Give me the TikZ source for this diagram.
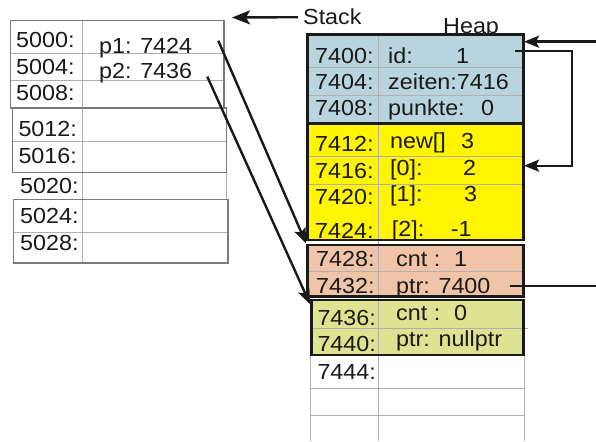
\documentclass[tikz,border=0pt]{standalone}
\usepackage{fontspec}
\setmainfont{Liberation Sans}[FakeStretch=1.07]
\usetikzlibrary{arrows.meta}

\definecolor{objblue}{HTML}{B8D4DE}
\definecolor{arryellow}{HTML}{FFF500}
\definecolor{ctlpeach}{HTML}{EFC4A8}
\definecolor{ctlgreen}{HTML}{DDE390}
\definecolor{gridgray}{HTML}{B0B0B0}
\definecolor{boxgray}{HTML}{7A7A7A}
\definecolor{ink}{HTML}{1A1A1A}

% label, then value starting at a fixed offset
\newcommand{\memval}[3]{\makebox[#2][l]{#1}#3}

\tikzset{
  lbl/.style={anchor=base west, inner sep=0pt, text=ink,
              font=\fontsize{21.8}{24}\selectfont},
  gridline/.style={draw=gridgray, line width=0.8pt},
  stackbox/.style={draw=boxgray, line width=1.1pt},
  block/.style={draw=ink, line width=2.8pt},
  ptrarrow/.style={draw=ink, line width=2.4pt, line join=miter,
                   -{Stealth[length=15pt,width=12pt,inset=3pt]}},
  ptrline/.style={draw=ink, line width=2.4pt},
}

\begin{document}
\begin{tikzpicture}[x=1pt,y=-1pt]
\useasboundingbox (0,0) rectangle (596,441);

% ---------------- Stack ----------------
\draw[gridline] (10.7,53.3) -- (224,53.3);
\draw[gridline] (10.7,80.7) -- (224,80.7);
\draw[gridline] (12.7,141.7) -- (226.7,141.7);
\draw[gridline] (13.3,232.3) -- (228,232.3);
\draw[gridline] (226.7,172.3) -- (226.7,199.3);
\draw[gridline] (82.7,20.7) -- (82.7,263);
\draw[stackbox] (10.7,20.7) rectangle (224,108);
\draw[stackbox] (12.7,108) rectangle (226.7,172.3);
\draw[stackbox] (13.3,199.3) rectangle (228,263);

\node[lbl] (s5000) at (16,47.7)  {5000:};
\node[lbl] (s5004) at (16,75)    {5004:};
\node[lbl] (s5008) at (16,100.7) {5008:};
\node[lbl] (s5012) at (18.3,136.7) {5012:};
\node[lbl] (s5016) at (18.3,163.3) {5016:};
\node[lbl] (s5020) at (20,193.3) {5020:};
\node[lbl] (s5024) at (20,223.3) {5024:};
\node[lbl] (s5028) at (20,250)   {5028:};

\node[lbl] (p1) at (99,53.3) {p1: 7424};
\node[lbl] (p2) at (99,79)   {p2: 7436};

\node[lbl] (stack) at (303,25) {Stack};
\node[lbl] (heap)  at (443,33.5) {Heap};

% ---------------- Heap ----------------
\fill[white] (310.7,355) rectangle (524.3,441);
\draw[gridline] (310.7,355) -- (310.7,441);
\draw[gridline] (524.3,355) -- (524.3,441);
\draw[gridline] (310.7,388.3) -- (524.3,388.3);
\draw[gridline] (310.7,415) -- (524.3,415);

\fill[objblue]   (307.3,34.3) rectangle (523.3,123.3);
\fill[arryellow] (307.3,123.3) rectangle (523.3,240);
\fill[ctlpeach]  (307.3,245) rectangle (523.3,296.7);
\fill[ctlgreen]  (311.7,300) rectangle (523.3,355);

\draw[gridline] (307.3,67.7) -- (523.3,67.7);
\draw[gridline] (307.3,95.7) -- (523.3,95.7);
\draw[gridline] (307.3,156) -- (523.3,156);
\draw[gridline] (307.3,184) -- (523.3,184);
\draw[gridline] (307.3,271.7) -- (523.3,271.7);
\draw[gridline] (311.7,328.3) -- (528,328.3);
\draw[gridline] (378.3,34.3) -- (378.3,441);

\draw[block] (307.3,34.3) rectangle (523.3,123.3);
\draw[block] (307.3,123.3) rectangle (523.3,240);
\draw[block] (307.3,245) rectangle (523.3,296.7);
\draw[block] (311.7,300) rectangle (523.3,355);

\node[lbl] (h7400) at (315,63.3)  {7400:};
\node[lbl] (h7404) at (315,90)    {7404:};
\node[lbl] (h7408) at (315,115)   {7408:};
\node[lbl] (h7412) at (315,151.7) {7412:};
\node[lbl] (h7416) at (315,178.3) {7416:};
\node[lbl] (h7420) at (315,204)   {7420:};
\node[lbl] (h7424) at (315,238.3) {7424:};
\node[lbl] (h7428) at (316,266.7) {7428:};
\node[lbl] (h7432) at (316,293.3) {7432:};
\node[lbl] (h7436) at (317.3,325) {7436:};
\node[lbl] (h7440) at (317.3,351.7) {7440:};
\node[lbl] (h7444) at (317.3,379.3) {7444:};

\node[lbl] (vid)     at (388,63.3)  {\memval{id:}{68pt}{1}};
\node[lbl] (vzeiten) at (388,90)    {zeiten:7416};
\node[lbl] (vpunkte) at (388,115)   {\memval{punkte:}{93pt}{0}};
\node[lbl] (vnew)    at (390,148.3) {\memval{new[]}{71pt}{3}};
\node[lbl] (va0)     at (390,175)   {\memval{[0]:}{73pt}{2}};
\node[lbl] (va1)     at (390,201.7) {\memval{[1]:}{74pt}{3}};
\node[lbl] (va2)     at (391.7,236.7) {\memval{[2]:}{59pt}{-1}};
\node[lbl] (vcnt1)   at (396,266.7) {\memval{cnt :}{58pt}{1}};
\node[lbl] (vptr1)   at (396,293.3) {ptr: 7400};
\node[lbl] (vcnt0)   at (396,320)   {\memval{cnt :}{58pt}{0}};
\node[lbl] (vptr0)   at (396,346.7) {ptr: nullptr};

% ---------------- Connectors ----------------
\coordinate (stacktip) at (232,17.5);
\coordinate (p1from) at (218.3,40.7);
\coordinate (p1to)   at (306,243.3);
\coordinate (p2from) at (207.3,76.7);
\coordinate (p2to)   at (310,304);
\coordinate (objin)  at (596,41.7);
\coordinate (objtip) at (524,41.7);
\coordinate (zfrom)  at (515,51);
\coordinate (zbend)  at (571.7,165.7);
\coordinate (ztip)   at (524,165.7);
\coordinate (ptrfrom) at (510,286);
\coordinate (ptrout)  at (596,286);

\draw[ptrarrow, -{Stealth[length=18pt,width=14pt,inset=4pt]}]
  ([xshift=-5pt]stack.west) -- (stacktip);
\draw[ptrarrow] (p1from) -- (p1to);
\draw[ptrarrow] (p2from) -- (p2to);
\draw[ptrarrow] (objin) -- (objtip);
\draw[ptrarrow] (zfrom) -| (zbend) -- (ztip);
\draw[ptrline] (ptrfrom) -- (ptrout);
\end{tikzpicture}
\end{document}
